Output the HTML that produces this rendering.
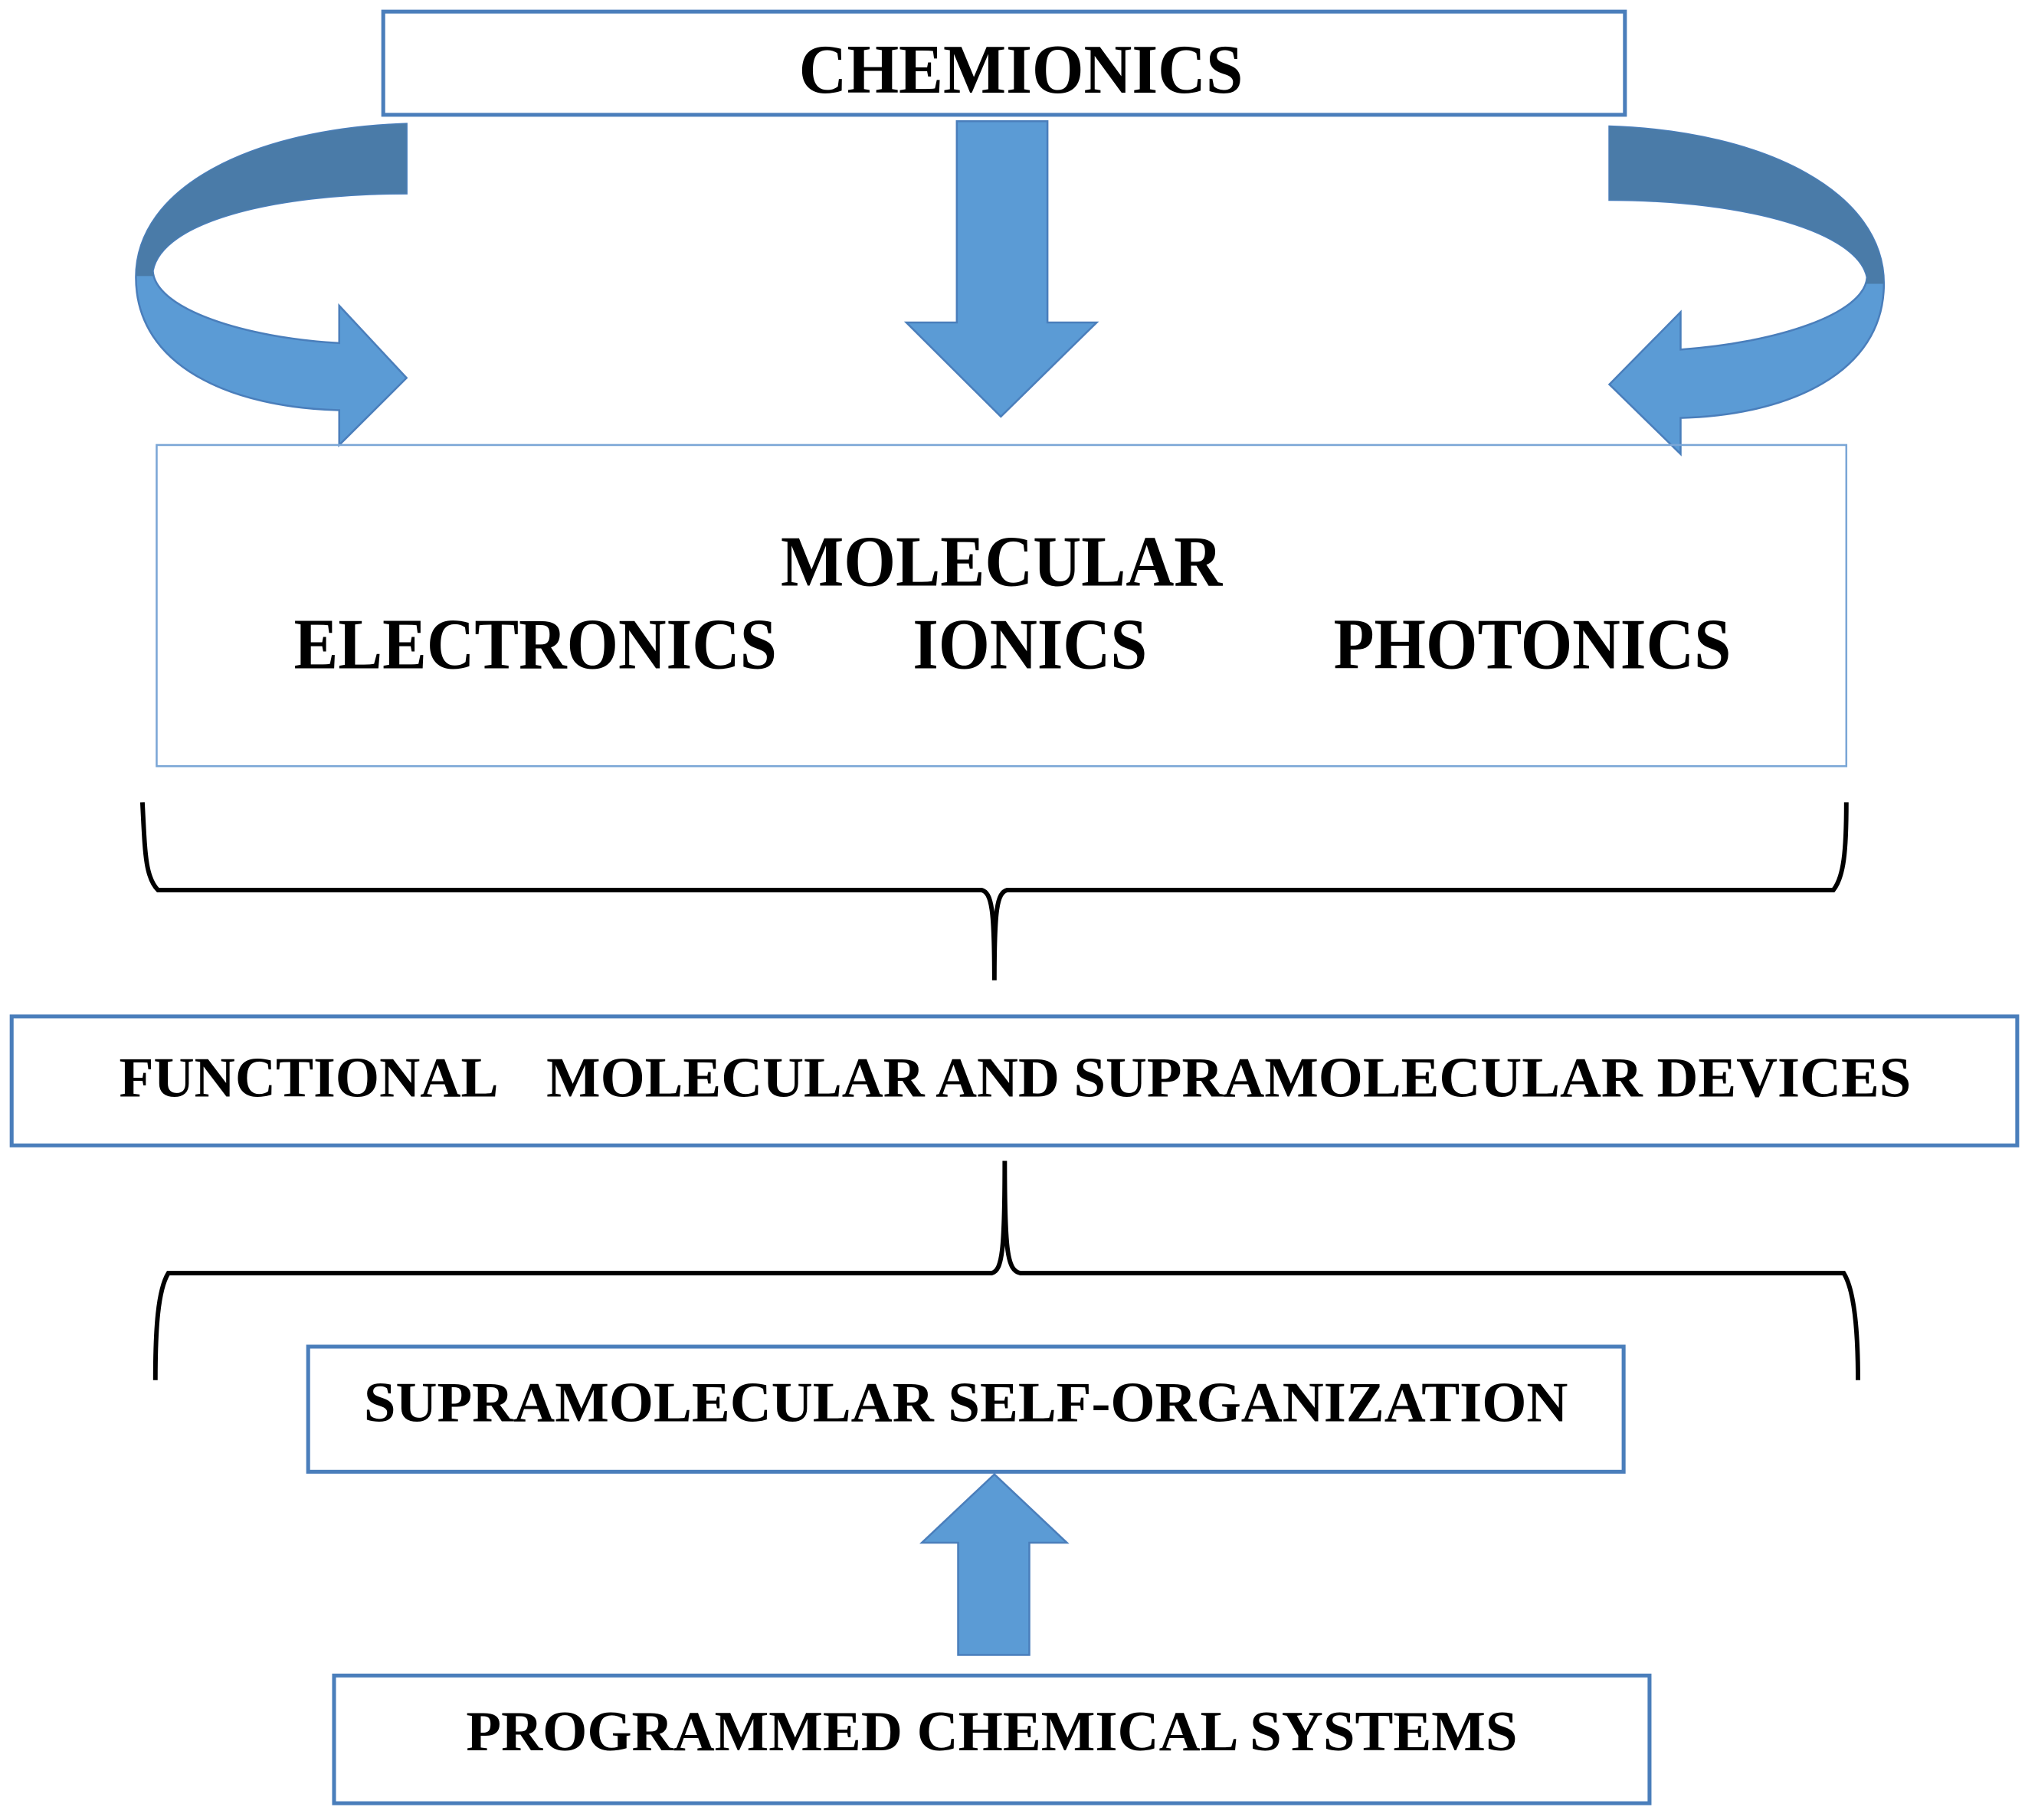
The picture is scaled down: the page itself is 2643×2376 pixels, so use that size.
<!DOCTYPE html>
<html><head><meta charset="utf-8"><style>html,body{margin:0;padding:0;background:#fff}svg{display:block}</style></head>
<body>
<svg width="2643" height="2376" viewBox="0 0 1564 1411" preserveAspectRatio="none" xmlns="http://www.w3.org/2000/svg">
<defs>
<clipPath id="topL"><rect x="0" y="0" width="1564" height="214"/></clipPath>
<clipPath id="topR"><rect x="0" y="0" width="1564" height="220"/></clipPath>
</defs>
<g font-family="'Liberation Serif', serif" font-weight="bold" fill="#000">
<rect x="296" y="9" width="959" height="80" fill="#fff" stroke="#4a7ebb" stroke-width="3"/>
<text x="617" y="72" font-size="54" textLength="343" lengthAdjust="spacingAndGlyphs">CHEMIONICS</text>

<polygon points="739,94 809,94 809,250 847,250 773,323 700,250 739,250" fill="#5b9bd5" stroke="#4a7ebb" stroke-width="1.5"/>

<path d="M314,96 C195,100 105,145 105,215 C105,285 180,316 262,318 L262,345 L314,293 L262,237 L262,266 C190,262 120,240 118,210 C125,172 210,150 314,150 Z" fill="#5b9bd5" stroke="#4a7ebb" stroke-width="1.5"/>
<path d="M314,96 C195,100 105,145 105,215 C105,285 180,316 262,318 L262,345 L314,293 L262,237 L262,266 C190,262 120,240 118,210 C125,172 210,150 314,150 Z" fill="#4a7ba8" clip-path="url(#topL)"/>

<path d="M1243,98 C1365,102 1455,150 1455,220 C1455,290 1380,322 1298,324 L1298,352 L1243,298 L1298,242 L1298,271 C1370,266 1440,244 1442,215 C1435,180 1350,155 1243,155 Z" fill="#5b9bd5" stroke="#4a7ebb" stroke-width="1.5"/>
<path d="M1243,98 C1365,102 1455,150 1455,220 C1455,290 1380,322 1298,324 L1298,352 L1243,298 L1298,242 L1298,271 C1370,266 1440,244 1442,215 C1435,180 1350,155 1243,155 Z" fill="#4a7ba8" clip-path="url(#topR)"/>

<rect x="121" y="345" width="1305" height="249" fill="none" stroke="#7aa6d6" stroke-width="1.5"/>
<text x="603" y="454" font-size="56" textLength="341" lengthAdjust="spacingAndGlyphs">MOLECULAR</text>
<text x="227" y="518" font-size="56" textLength="373" lengthAdjust="spacingAndGlyphs">ELECTRONICS</text>
<text x="705" y="518" font-size="56" textLength="181" lengthAdjust="spacingAndGlyphs">IONICS</text>
<text x="1030" y="518" font-size="56" textLength="307" lengthAdjust="spacingAndGlyphs">PHOTONICS</text>

<path d="M110,622 C112,660 112,680 122,690 L758,690 C766,692 768,705 768,760 C768,705 770,692 778,690 L1416,690 C1424,680 1426,660 1426,622" fill="none" stroke="#000" stroke-width="3.5"/>

<rect x="9" y="788" width="1549" height="100" fill="#fff" stroke="#4a7ebb" stroke-width="3"/>
<text x="92" y="850" font-size="44" textLength="293" lengthAdjust="spacingAndGlyphs">FUNCTIONAL</text>
<text x="422" y="850" font-size="44" textLength="1054" lengthAdjust="spacingAndGlyphs">MOLECULAR AND SUPRAMOLECULAR DEVICES</text>

<path d="M120,1070 C120,1030 122,1000 130,987 L766,987 C774,985 776,970 776,900 C776,970 778,985 788,987 L1424,987 C1432,1000 1435,1030 1435,1070" fill="none" stroke="#000" stroke-width="3.5"/>

<rect x="238" y="1044" width="1016" height="97" fill="#fff" stroke="#4a7ebb" stroke-width="3"/>
<text x="281" y="1102" font-size="44" textLength="930" lengthAdjust="spacingAndGlyphs">SUPRAMOLECULAR SELF-ORGANIZATION</text>

<polygon points="768,1143 824,1196 795,1196 795,1283 740,1283 740,1196 712,1196" fill="#5b9bd5" stroke="#4a7ebb" stroke-width="1.5"/>

<rect x="258" y="1299" width="1016" height="99" fill="#fff" stroke="#4a7ebb" stroke-width="3"/>
<text x="360" y="1357" font-size="44" textLength="812" lengthAdjust="spacingAndGlyphs">PROGRAMMED CHEMICAL SYSTEMS</text>
</g>
</svg>
</body></html>
